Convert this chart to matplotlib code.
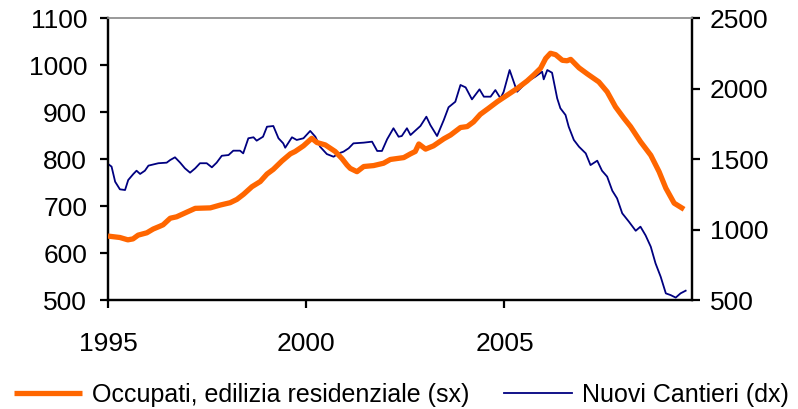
import matplotlib
matplotlib.use("Agg")
import matplotlib.pyplot as plt

plt.rcParams['font.family'] = ['Liberation Sans', 'DejaVu Sans']

# Occupati, edilizia residenziale (sx) - left axis
occ_years = [1995.0, 1995.3, 1995.5, 1995.63, 1995.76, 1995.98, 1996.14, 1996.31, 1996.39,
             1996.57, 1996.73, 1996.99, 1997.2, 1997.58, 1997.83, 1998.08, 1998.25, 1998.42,
             1998.63, 1998.84, 1999.01, 1999.17, 1999.39, 1999.6, 1999.72, 1999.93, 2000.14,
             2000.27, 2000.48, 2000.73, 2000.9, 2001.03, 2001.11, 2001.28, 2001.45, 2001.7,
             2001.95, 2002.12, 2002.46, 2002.63, 2002.75, 2002.84, 2003.01, 2003.21, 2003.47,
             2003.64, 2003.89, 2004.06, 2004.22, 2004.39, 2004.6, 2004.82, 2005.07, 2005.32,
             2005.57, 2005.74, 2005.91, 2006.04, 2006.16, 2006.29, 2006.46, 2006.58, 2006.67,
             2006.88, 2007.09, 2007.38, 2007.59, 2007.8, 2008.01, 2008.18, 2008.43, 2008.69,
             2008.9, 2009.07, 2009.28, 2009.53]
occ_values = [636, 633, 628, 630, 638, 643, 651, 657, 660,
              674, 677, 687, 695, 696, 702, 707, 714, 725,
              741, 752, 768, 778, 796, 811, 816, 828, 844,
              835, 830, 816, 801, 787, 780, 773, 784, 786,
              791, 799, 803, 811, 816, 832, 821, 828, 843,
              851, 867, 869, 879, 895, 908, 922, 936, 950,
              966, 979, 993, 1014, 1025, 1022, 1010, 1009, 1012,
              994, 981, 964, 943, 911, 887, 869, 837, 808,
              773, 738, 706, 693]

# Nuovi Cantieri (dx) - right axis
can_years = [1995.0, 1995.09, 1995.18, 1995.3, 1995.43, 1995.51, 1995.64, 1995.72, 1995.81,
             1995.93, 1996.02, 1996.27, 1996.48, 1996.57, 1996.69, 1996.82, 1996.94, 1997.07,
             1997.2, 1997.32, 1997.49, 1997.62, 1997.74, 1997.87, 1998.04, 1998.16, 1998.33,
             1998.41, 1998.54, 1998.67, 1998.75, 1998.91, 1999.01, 1999.17, 1999.3, 1999.42,
             1999.47, 1999.64, 1999.76, 1999.93, 2000.1, 2000.23, 2000.35, 2000.52, 2000.69,
             2000.82, 2000.94, 2001.07, 2001.19, 2001.45, 2001.66, 2001.79, 2001.91, 2002.04,
             2002.2, 2002.33, 2002.41, 2002.54, 2002.63, 2002.75, 2002.88, 2003.03, 2003.13,
             2003.3, 2003.47, 2003.59, 2003.76, 2003.89, 2004.02, 2004.18, 2004.37, 2004.48,
             2004.65, 2004.77, 2004.9, 2004.98, 2005.13, 2005.32, 2005.57, 2005.78, 2005.95,
             2005.99, 2006.08, 2006.2, 2006.33, 2006.41, 2006.54, 2006.62, 2006.75, 2006.88,
             2007.05, 2007.17, 2007.34, 2007.46, 2007.59, 2007.72, 2007.84, 2007.97, 2008.14,
             2008.31, 2008.43, 2008.56, 2008.69, 2008.81, 2008.94, 2009.07, 2009.19, 2009.32,
             2009.44, 2009.57]
can_values = [1465, 1446, 1339, 1285, 1280, 1351, 1394, 1417, 1394,
              1417, 1453, 1470, 1474, 1493, 1512, 1474, 1434, 1403,
              1434, 1470, 1470, 1441, 1474, 1523, 1528, 1559, 1559,
              1540, 1647, 1654, 1630, 1658, 1729, 1734, 1647, 1611,
              1580, 1654, 1635, 1647, 1699, 1658, 1587, 1535, 1516,
              1540, 1552, 1576, 1611, 1616, 1623, 1557, 1557, 1640,
              1718, 1658, 1663, 1718, 1670, 1701, 1734, 1800, 1741,
              1663, 1777, 1867, 1906, 2025, 2008, 1923, 1994, 1942,
              1942, 1989, 1930, 1977, 2131, 1977, 2048, 2084, 2119,
              2065, 2131, 2112, 1930, 1860, 1812, 1729, 1635, 1587,
              1540, 1457, 1488, 1417, 1375, 1275, 1221, 1115, 1055,
              991, 1020, 958, 878, 760, 665, 547, 535, 517,
              547, 566]

x_ticks = [1995, 2000, 2005]
left_ticks = [500, 600, 700, 800, 900, 1000, 1100]
right_ticks = [500, 1000, 1500, 2000, 2500]

fig = plt.figure(figsize=(7.98, 4.09), dpi=100)
ax = fig.add_axes([108/798, 1-300/409, (692-108)/798, (300-18)/409])
ax2 = ax.twinx()

l1, = ax.plot(occ_years, occ_values, color='#FF6600', lw=3.8, solid_capstyle='butt',
              label='Occupati, edilizia residenziale (sx)', zorder=3)
l2, = ax2.plot(can_years, can_values, color='#000080', lw=1.3,
               label='Nuovi Cantieri (dx)', zorder=2)
ax.set_zorder(ax2.get_zorder() + 1)
ax.patch.set_visible(False)

ax.set_xlim(1995, 2009.73)
ax.set_ylim(500, 1100)
ax2.set_ylim(500, 2500)
ax.set_xticks(x_ticks)
ax.set_xticklabels([str(t) for t in x_ticks])
ax.set_yticks(left_ticks)
ax2.set_yticks(right_ticks)

for a in (ax, ax2):
    for s in ('left', 'right', 'bottom'):
        a.spines[s].set_linewidth(1.6)
        a.spines[s].set_color('black')
    a.spines['top'].set_color('#999999')
    a.spines['top'].set_linewidth(1.2)

ax.tick_params(axis='y', direction='out', length=6, width=1.6, labelsize=19, pad=9)
ax.tick_params(axis='x', direction='out', length=6, width=1.6, labelsize=19, pad=17)
ax2.tick_params(axis='y', direction='out', length=6, width=1.6, labelsize=19, pad=7)

fig.legend(handles=[l1, l2], loc='lower center', bbox_to_anchor=(0.503, -0.038), ncol=2,
           frameon=False, fontsize=18, handlelength=2.7, handletextpad=0.4,
           columnspacing=1.4, borderpad=0.2)

fig.savefig('out.png', dpi=100)
